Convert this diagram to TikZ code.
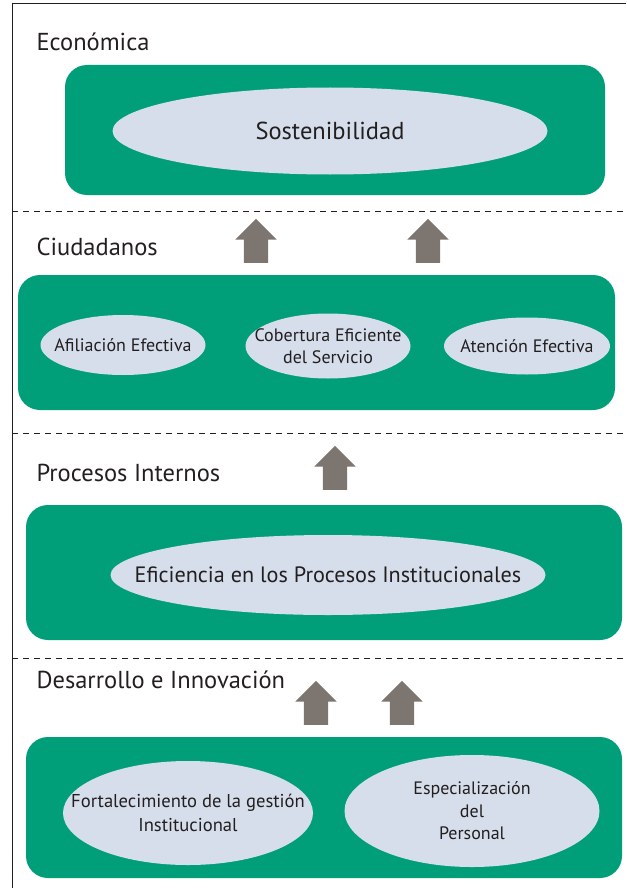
\documentclass[tikz,border=0pt]{standalone}
\usepackage{fontspec}
\setmainfont{PT Sans}
\usetikzlibrary{shapes.geometric,shapes.arrows}
\definecolor{verdecapa}{RGB}{0,159,122}
\definecolor{azulobj}{RGB}{213,222,234}
\definecolor{grisflecha}{RGB}{125,117,112}
\definecolor{texto}{RGB}{35,31,32}

\begin{document}
\begin{tikzpicture}[x=1pt, y=-1pt,
    franja/.style={rectangle, rounded corners=22pt, fill=verdecapa, inner sep=0pt},
    objetivo/.style={ellipse, fill=azulobj, inner sep=0pt},
    rotulo/.style={align=center, text=texto, inner sep=0pt,
        font=\fontsize{18}{22}\selectfont},
    titulo/.style={anchor=west, text=texto, font=\fontsize{24.5}{29}\selectfont},
    subida/.style={single arrow, shape border rotate=90, fill=grisflecha,
        minimum height=44pt, single arrow head extend=8.5pt, inner sep=12pt},
    separador/.style={dash pattern=on 6pt off 5pt, line width=1pt, draw=texto}]
    \useasboundingbox (0,0) rectangle (626,888);
    % marco
    \draw[line width=1pt, texto] (12,888) -- (12,4) -- (626,4);

    % Economica
    \node[titulo] (teco) at (33,42) {Económica};
    \node[franja, minimum width=540pt, minimum height=130pt] (eco) at (335,130) {};
    \node[objetivo, minimum width=435pt, minimum height=87pt] (sost) at (330,131) {};
    \node[rotulo, font=\fontsize{24.5}{29}\selectfont] (sost-t) at (sost) {Sostenibilidad};
    \draw[separador] (12,211) -- (626,211);

    % Ciudadanos
    \node[titulo] (tciu) at (33,247) {Ciudadanos};
    \node[subida] (f1) at (256,247) {};
    \node[subida] (f2) at (428,247) {};
    \node[franja, minimum width=597pt, minimum height=135pt] (ciu) at (316.5,342.5) {};
    \node[objetivo, minimum width=165pt, minimum height=60pt] (afil) at (123,345) {};
    \node[rotulo] (afil-t) at (afil) {Afiliación Efectiva};
    \node[objetivo, minimum width=165pt, minimum height=65pt] (cobe) at (328,346) {};
    \node[rotulo] (cobe-t) at (cobe) {Cobertura Eficiente\\del Servicio};
    \node[objetivo, minimum width=166pt, minimum height=57pt] (aten) at (527,346) {};
    \node[rotulo] (aten-t) at (aten) {Atención Efectiva};
    \draw[separador] (12,433) -- (626,433);

    % Procesos Internos
    \node[titulo] (tpro) at (33,473) {Procesos Internos};
    \node[subida] (f3) at (335,474) {};
    \node[franja, minimum width=596pt, minimum height=135pt] (pro) at (324,572.5) {};
    \node[objetivo, minimum width=435pt, minimum height=80pt] (efic) at (328,575) {};
    \node[rotulo, font=\fontsize{22.2}{27}\selectfont] (efic-t) at (efic)
        {Eficiencia en los Procesos Institucionales};
    \draw[separador] (12,658) -- (626,658);

    % Desarrollo e Innovacion
    \node[titulo] (tdes) at (33,680) {Desarrollo e Innovación};
    \node[subida] (f4) at (316,709) {};
    \node[subida] (f5) at (402,709) {};
    \node[franja, minimum width=596pt, minimum height=141pt] (des) at (324,807.5) {};
    \node[objetivo, minimum width=250pt, minimum height=104pt] (fort) at (188,813) {};
    \node[rotulo, font=\fontsize{18.6}{24}\selectfont] (fort-t) at (fort)
        {Fortalecimiento de la gestión\\Institucional};
    \node[objetivo, minimum width=255pt, minimum height=112pt] (espe) at (472,811) {};
    \node[rotulo, font=\fontsize{18}{22.5}\selectfont] (espe-t) at (espe)
        {Especialización\\del\\Personal};
\end{tikzpicture}
\end{document}
